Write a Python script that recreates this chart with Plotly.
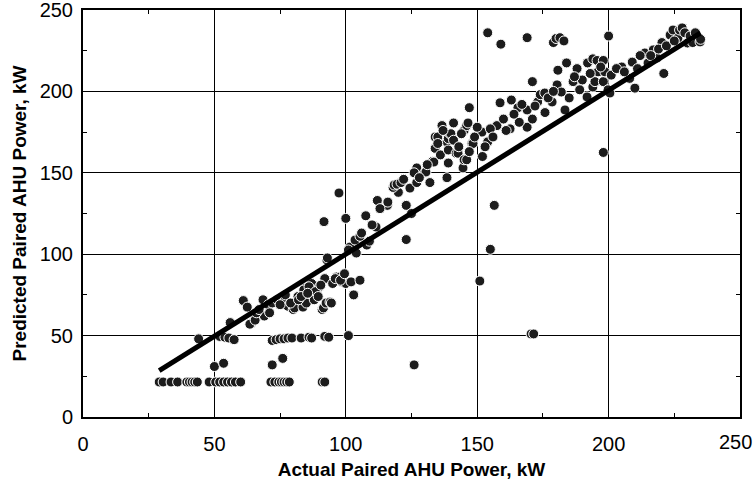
import plotly.graph_objects as go

# ---- data (kW) ----
# floor row at ~21.5 kW
floor_x = [29, 30.5, 33.5, 36, 39.5, 40.5, 41.5, 42.5, 43.5, 48, 50.5, 52, 53.5, 55, 56.5, 58, 60,
           71.5, 73, 74.5, 75.5, 76.5, 77.5, 78.5, 91, 92]
floor_y = [21.5] * len(floor_x)

low_x = [50, 53.5, 72, 76,
         44, 52, 54, 55.5, 57.5, 72, 73.5, 75, 76.5, 78, 79.5, 83, 86, 87, 92, 93.5, 101,
         126, 170.5, 171.5, 151, 155, 156.5, 198]
low_y = [31, 33, 32, 36,
         48, 49.5, 49, 48.5, 47.5, 47, 47.5, 48, 48, 48.5, 48.5, 48.5, 49, 48.5, 49.5, 49, 50,
         32, 51, 51, 83.5, 103, 130, 162.5]

top_x = [154, 159, 169, 179, 180, 181.5, 183, 200, 171, 147, 221, 210]
top_y = [236, 229, 233, 230, 232.5, 233, 231, 234, 206, 190, 211, 202]

mid_x = [56, 61, 62.5, 64, 63.5, 65.5, 68.5, 70.5, 69, 66, 72, 74, 76.9, 78, 80, 80.5, 81.8, 83.7,
         84.5, 84, 85, 87, 87.5, 88, 89, 90, 91, 91.5, 92, 92.5, 92.8, 93, 94, 94.5, 96.5, 98.5,
         97.8, 99, 100, 102, 103, 105.4, 101.6, 101, 104, 103.5, 105.4, 108, 100, 97.4, 91.7,
         107.6, 111.5, 112, 115.8, 123, 123, 125, 77, 79, 82, 86, 88.5, 95, 96, 98, 99.5, 110, 113,
         67, 71, 75, 83, 85.5, 89.5, 90.5, 106, 109, 116, 120]
mid_y = [58, 71.5, 67.5, 57.5, 57, 59.5, 72, 69, 62, 64, 70, 72, 72, 68, 66, 67, 74, 67.5,
         79, 78, 70, 82, 75, 72, 77, 80, 66, 67, 85, 70, 96.5, 97.7, 70.6, 70, 86, 83,
         86, 84, 82, 83, 75, 84, 104.4, 102.6, 100.7, 108.7, 111, 105.6, 122, 137.6, 120,
         123.6, 116.7, 133, 130, 109, 130, 125, 75, 70, 72, 80, 77, 82, 85, 84, 88, 118, 128,
         66, 64, 69, 74, 76, 74, 81, 113, 108, 132, 138]

band_x = [118, 118.4, 119.5, 121, 124.4, 127, 127, 130, 130.5, 132, 133, 133.5, 134, 134, 135, 136,
          136.6, 138.5, 138.5, 139, 139, 139, 139.6, 140, 141, 142, 142.7, 144.6, 145, 145, 146,
          146, 146.5, 148, 148.4, 151.8, 152, 154, 157.5, 158.7, 162.5, 163, 165.5, 169, 169,
          173, 174, 175.7, 175.8, 178.5, 180.4, 180.7, 182, 183.4, 184, 186.5, 188, 190, 191.8,
          192, 194, 194, 194.8, 195.6, 196, 198, 198, 198.6, 199.8, 200.5, 205, 208, 209, 213.8,
          215, 217, 218.4, 220.3, 223.4, 224.5, 226.4, 227, 228, 230, 232, 234.8,
          122, 126, 128, 131, 135, 137, 141, 143, 144, 147, 149, 150, 153, 155, 156, 160, 161,
          164, 166, 167, 171, 172, 177, 179, 185, 187, 189, 193, 197, 201, 203, 206, 211, 212,
          216, 219, 222, 225, 229, 231, 233, 235]
band_y = [141, 142.5, 143, 144, 140.6, 144, 153, 150, 150.5, 144, 157, 156.6, 165, 172, 172, 161,
          179, 147, 169, 156, 164, 171, 174, 174, 180.6, 162, 162, 153, 158, 176, 158,
          179, 180.6, 168, 168, 175, 160, 169, 179, 193, 177, 194.7, 190, 178, 188.6,
          193.5, 198, 199, 187, 193.5, 204, 213, 199.6, 188.6, 217.5, 206, 214, 207, 196.6,
          217.5, 202.7, 220, 206, 219, 212, 219, 206, 212, 201, 199, 215, 208, 218, 223.6,
          217.4, 225.5, 220.5, 230, 234.6, 237.7, 232.8, 237.7, 239, 229.7, 230, 230.4,
          146, 150, 147, 155, 168, 176, 170, 166, 174, 163, 172, 178, 166, 177, 172, 183, 176,
          186, 181, 192, 183, 191, 196, 200, 196, 209, 201, 211, 215, 210, 214, 212, 214, 222,
          222, 226, 228, 231, 236, 234, 236, 232]

pts_x = floor_x + low_x + top_x + mid_x + band_x
pts_y = floor_y + low_y + top_y + mid_y + band_y

fit_x = [29, 235]
fit_y = [28.5, 236]

x_tickvals = [0, 50, 100, 150, 200, 250]
x_ticktext = ["0", "50", "100", "150", "200", ""]
x_last_label = "250"

fig = go.Figure()
fig.add_trace(go.Scatter(
    x=pts_x, y=pts_y, mode="markers",
    marker=dict(size=10, color="#1c1c1c", line=dict(color="white", width=1)),
    showlegend=False, hoverinfo="x+y"))
fig.add_trace(go.Scatter(
    x=fit_x, y=fit_y, mode="lines",
    line=dict(color="black", width=5), showlegend=False))

font = "Liberation Sans, Arial, sans-serif"
axis_common = dict(
    range=[0, 250], dtick=50, showgrid=True, gridcolor="black", gridwidth=1.3,
    showline=True, linecolor="black", linewidth=2, mirror="ticks",
    ticks="inside", ticklen=4, tickcolor="black", tickwidth=1, zeroline=False,
    automargin=False, ticklabeloverflow="allow",
    minor=dict(dtick=25, ticks="inside", ticklen=4, tickcolor="black", tickwidth=1, showgrid=False),
    tickfont=dict(family=font, size=20, color="black"),
)
fig.update_layout(
    width=754, height=484,
    margin=dict(l=83, r=14, t=10, b=67),
    paper_bgcolor="white", plot_bgcolor="white",
    xaxis=dict(axis_common, ticklabelstandoff=8, tickmode="array",
               tickvals=x_tickvals, ticktext=x_ticktext,
               title=dict(text="<b>Actual Paired AHU Power, kW</b>", standoff=9,
                          font=dict(family=font, size=19, color="black"))),
    yaxis=dict(axis_common, ticklabelstandoff=4,
               title=dict(text="<b>Predicted Paired AHU Power, kW</b>", standoff=8,
                          font=dict(family=font, size=19, color="black"))),
    annotations=[dict(
        x=x_tickvals[-1], xref="x", y=0, yref="paper", text=x_last_label,
        showarrow=False, xanchor="center", yanchor="top", xshift=-5, yshift=-12,
        font=dict(family=font, size=20, color="black"))],
)
fig.write_html("out.html")
